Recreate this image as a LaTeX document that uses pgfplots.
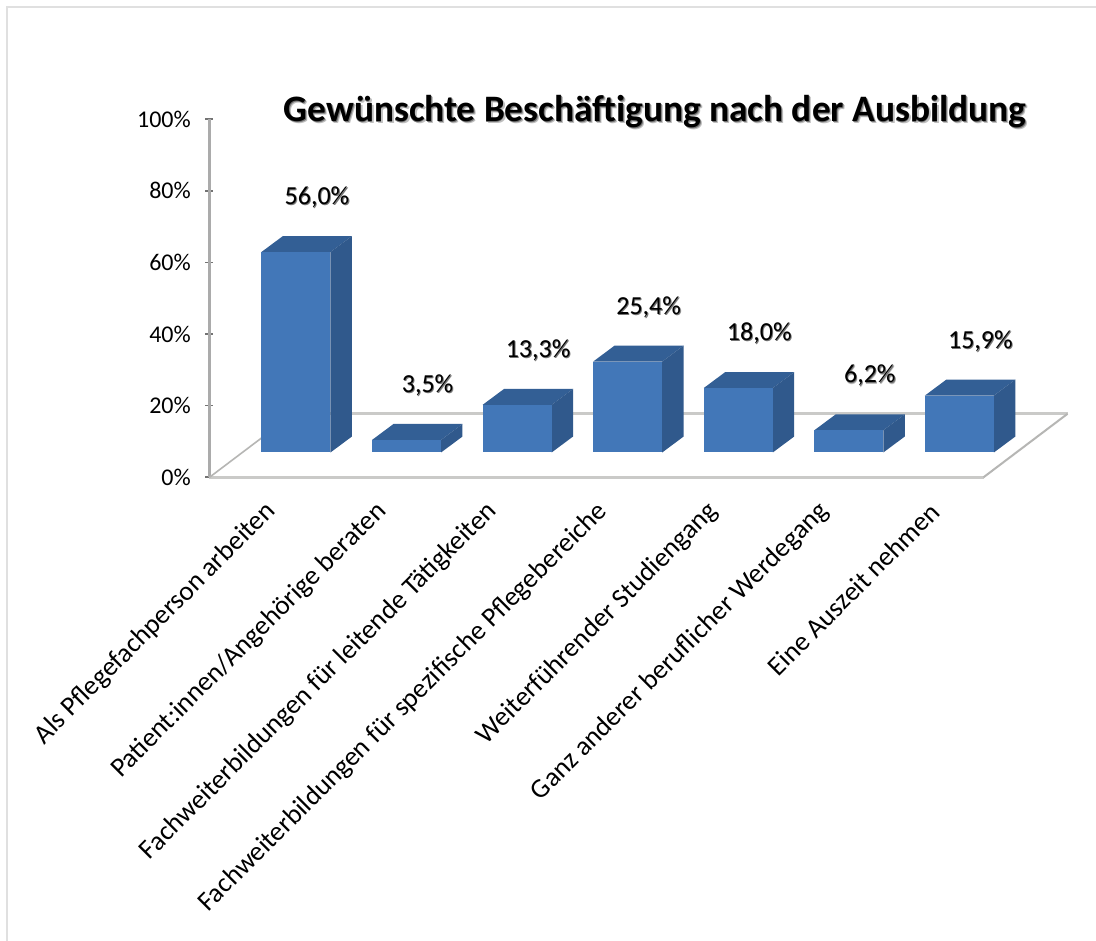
\documentclass[border=0pt]{standalone}
\usepackage{pgfplots}
\usepackage{pgfplotstable}
\usepackage{fontspec}
\setmainfont{Carlito}
\pgfplotsset{compat=1.18}
\newlength\px
\setlength\px{0.75pt}
\definecolor{barfront}{HTML}{4277B8}
\definecolor{bartop}{HTML}{335F95}
\definecolor{barside}{HTML}{30598C}
\definecolor{floorline}{HTML}{CACAC8}
\definecolor{frameline}{HTML}{E0E0E0}
% soft drop shadow behind captions
\newcommand\softtext[2][1.6]{\leavevmode\rlap{\kern#1\px\raisebox{-#1\px}{\color{black!25}#2}}\rlap{\kern0.8\px\raisebox{-0.8\px}{\color{black!55}#2}}#2}
\pgfplotstableread{
i v
0 56.0
1 3.5
2 13.3
3 25.4
4 18.0
5 6.2
6 15.9
}\shares
\def\barbase{6.93}
\def\barhalf{0.312}
\def\baroff{0.282}
\def\depthx{0.194}
\def\depthy{4.46}
\begin{document}
\begin{tikzpicture}[x=1\px,y=1\px]
\path[use as bounding box] (0,0) rectangle (1096,941);
\fill[white] (0,0) rectangle (1096,941);
\draw[frameline,line width=2\px] (7,0) -- (7,934) -- (1096,934);
\begin{axis}[
  at={(209.5\px,463.7\px)}, anchor=origin,
  scale only axis, width=774\px, height=358\px,
  xmin=0, xmax=7, ymin=0, ymax=100,
  clip=false,
  axis lines=left,
  axis line style={-},
  x axis line style={floorline,line width=3\px},
  y axis line style={black!33,line width=3.5\px},
  xtick={0.5,1.5,2.5,3.5,4.5,5.5,6.5},
  xticklabels={Als Pflegefachperson arbeiten,Patient:innen/Angehörige beraten,Fachweiterbildungen für leitende Tätigkeiten,Fachweiterbildungen für spezifische Pflegebereiche,Weiterführender Studiengang,Ganz anderer beruflicher Werdegang,Eine Auszeit nehmen},
  xtick style={draw=none},
  xticklabel style={font=\fontsize{20.4}{24}\selectfont, rotate=45, anchor=east, xshift=-9\px, yshift=-23.4\px},
  ytick={0,20,...,100},
  yticklabel={\pgfmathprintnumber{\tick}\%},
  yticklabel style={font=\fontsize{18}{21}\selectfont, /pgf/number format/assume math mode=true, xshift=-10\px},
  tick align=center,
  major tick length=8\px,
  ytick style={black!55,line width=1.6\px},
]
% floor of the chart behind the bars
\addplot[floorline,line width=3.2\px] coordinates {(0.76,17.74) (7.76,17.74)};
\addplot[floorline!90!black,line width=1.6\px] coordinates {(0,0) (0.76,17.74)};
\addplot[floorline!90!black,line width=2\px] coordinates {(7,0) (7.76,17.74)};
% one cuboid per category: top, side and front face
\pgfplotsinvokeforeach{0,...,6}{
  \pgfplotstablegetelem{#1}{v}\of\shares
  \pgfmathsetmacro\ylow{\barbase}
  \pgfmathsetmacro\yhigh{\barbase+\pgfplotsretval}
  \pgfmathsetmacro\xleft{#1+0.5+\baroff-\barhalf}
  \pgfmathsetmacro\xright{#1+0.5+\baroff+\barhalf}
  \pgfmathsetmacro\xbackl{\xleft+\depthx}
  \pgfmathsetmacro\xbackr{\xright+\depthx}
  \pgfmathsetmacro\yback{\yhigh+\depthy}
  \pgfmathsetmacro\ybacklow{\ylow+\depthy}
  \addplot[fill=bartop,draw=none,forget plot] coordinates {(\xleft,\yhigh) (\xbackl,\yback) (\xbackr,\yback) (\xright,\yhigh)} --cycle;
  \addplot[fill=barside,draw=none,forget plot] coordinates {(\xright,\ylow) (\xbackr,\ybacklow) (\xbackr,\yback) (\xright,\yhigh)} --cycle;
  \addplot[fill=barfront,draw=none,forget plot] coordinates {(\xleft,\ylow) (\xright,\ylow) (\xright,\yhigh) (\xleft,\yhigh)} --cycle;
}
% value captions above the bars
\addplot[draw=none,mark=none,
  point meta=\thisrow{v},
  nodes near coords={\softtext[1.1]{\pgfmathprintnumber[fixed,fixed zerofill,precision=1,use comma,assume math mode=true]{\pgfplotspointmeta}\%}},
  every node near coord/.append style={font=\fontsize{19.5}{22}\selectfont, anchor=center, xshift=21\px, yshift=54\px, text=black},
] table[x expr=\thisrow{i}+0.5+\baroff, y expr=\thisrow{v}+\barbase] {\shares};
\end{axis}
\node[anchor=center,font=\fontsize{28}{32}\selectfont\bfseries] at (655,828.5) {\softtext[2]{Gewünschte Beschäftigung nach der Ausbildung}};
\end{tikzpicture}
\end{document}
